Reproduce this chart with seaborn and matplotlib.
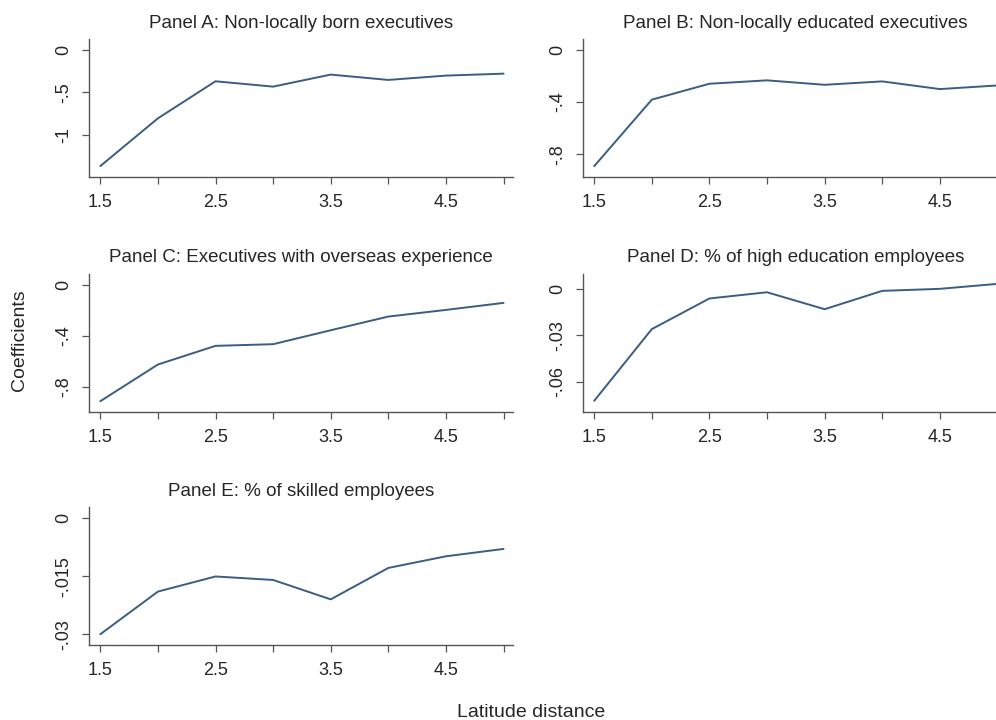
import pandas as pd
import matplotlib.pyplot as plt
import seaborn as sns

# Coefficients by latitude distance
distance = [1.5, 2.0, 2.5, 3.0, 3.5, 4.0, 4.5, 5.0]
born = [-1.37, -0.807, -0.37, -0.433, -0.291, -0.354, -0.303, -0.28]
educated = [-0.892, -0.382, -0.26, -0.234, -0.268, -0.242, -0.301, -0.273]
overseas = [-0.912, -0.625, -0.479, -0.466, -0.357, -0.25, -0.198, -0.143]
high_edu = [-0.0722, -0.0261, -0.0064, -0.0024, -0.0133, -0.0015, -0.0002, 0.003]
skilled = [-0.030, -0.0190, -0.0151, -0.016, -0.021, -0.0129, -0.0099, -0.008]

titles = ["Panel A: Non-locally born executives",
          "Panel B: Non-locally educated executives",
          "Panel C: Executives with overseas experience",
          "Panel D: % of high education employees",
          "Panel E: % of skilled employees"]
yticks = [[0, -0.5, -1], [0, -0.4, -0.8], [0, -0.4, -0.8],
          [0, -0.03, -0.06], [0, -0.015, -0.03]]
ytick_labels = [["0", "-.5", "-1"], ["0", "-.4", "-.8"], ["0", "-.4", "-.8"],
                ["0", "-.03", "-.06"], ["0", "-.015", "-.03"]]
xtick_labels = ["1.5", "", "2.5", "", "3.5", "", "4.5", ""]

series = [born, educated, overseas, high_edu, skilled]

sns.set_style("ticks")
plt.rcParams["font.family"] = ["Liberation Sans", "DejaVu Sans"]

# axes boxes in figure fractions [left, bottom, width, height]
boxes = [[0.0897, 0.754, 0.4257, 0.192],
         [0.5856, 0.754, 0.4257, 0.192],
         [0.0897, 0.428, 0.4257, 0.192],
         [0.5856, 0.428, 0.4257, 0.192],
         [0.0897, 0.104, 0.4257, 0.192]]
ylims = [(-1.50, 0.13), (-0.976, 0.084), (-0.995, 0.086),
         (-0.0793, 0.0096), (-0.0328, 0.00284)]

fig = plt.figure(figsize=(9.96, 7.2), dpi=100)
for i in range(5):
    ax = fig.add_axes(boxes[i])
    df = pd.DataFrame({"distance": distance, "coef": series[i]})
    sns.lineplot(data=df, x="distance", y="coef", ax=ax,
                 color="#3a5d82", linewidth=1.4)
    ax.set_xlim(1.405, 5.085)
    ax.set_ylim(*ylims[i])
    ax.set_xticks(distance)
    ax.set_xticklabels(xtick_labels, fontsize=13)
    ax.set_yticks(yticks[i])
    ax.set_yticklabels(ytick_labels[i], fontsize=13, rotation=90, va="center")
    ax.tick_params(axis="both", length=5, width=0.9, color="#555555", pad=7)
    ax.set_xlabel("")
    ax.set_ylabel("")
    ax.set_title(titles[i], fontsize=13.5, pad=8)
    sns.despine(ax=ax)
    for s in ["left", "bottom"]:
        ax.spines[s].set_color("#555555")
        ax.spines[s].set_linewidth(1.0)

fig.text(0.02, 0.528, "Coefficients", rotation=90, ha="center", va="center", fontsize=14)
fig.text(0.533, 0.011, "Latitude distance", ha="center", va="center", fontsize=14)

plt.savefig("out.png", dpi=100)
